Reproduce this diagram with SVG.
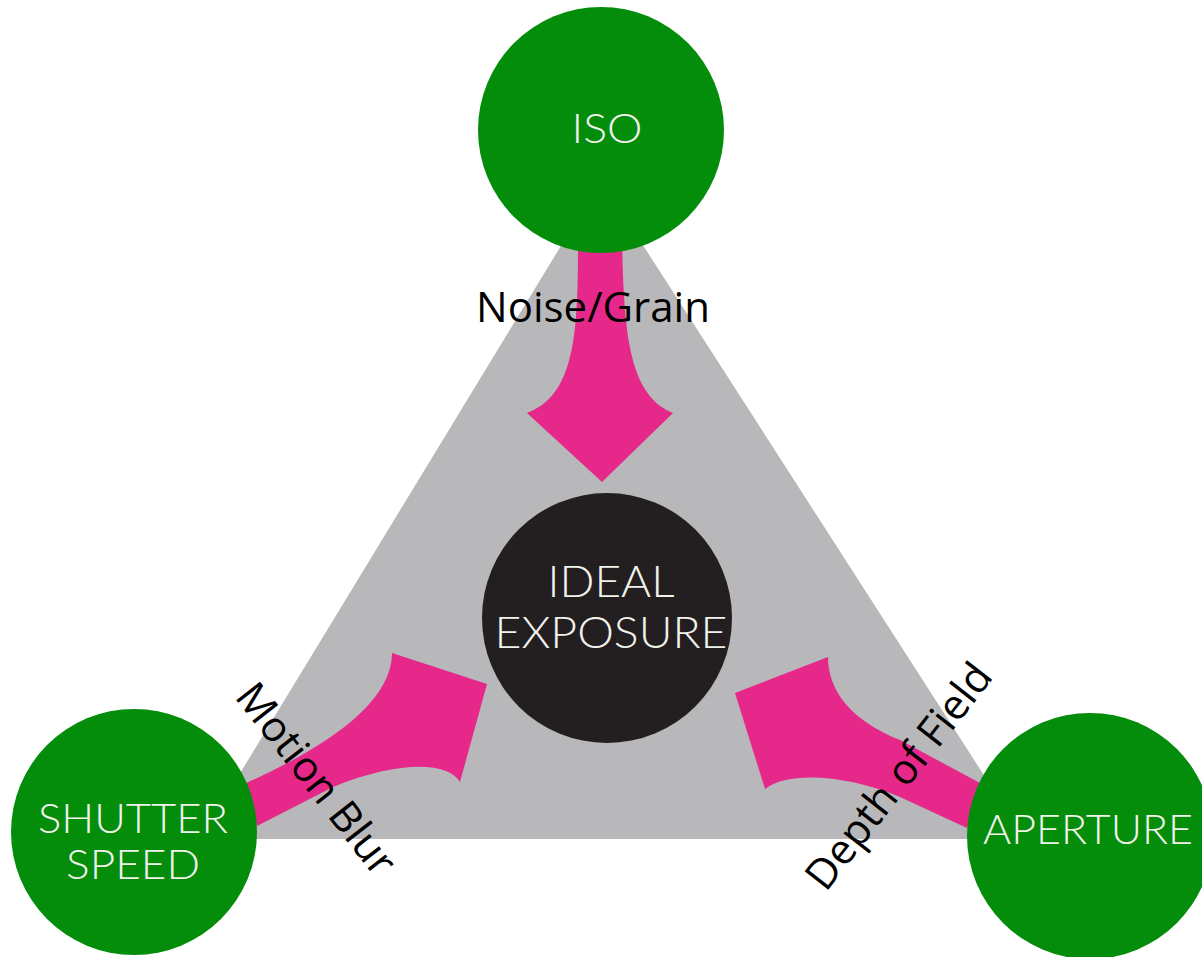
<svg xmlns="http://www.w3.org/2000/svg" width="1202" height="957" viewBox="0 0 1202 957">
<style>
.green{fill:#038D0B}
.arrow{fill:#E6288A}
.node-label{font-family:Lato,"Open Sans",sans-serif;font-weight:300;fill:#F2F2EC;text-anchor:middle}
.edge-label{font-family:"Open Sans","Liberation Sans",sans-serif;font-size:42px;fill:#000;text-anchor:middle}
</style>
<rect width="1202" height="957" fill="#fff"/>
<g id="triangle">
<polygon points="601,180 200,839 1025,839" fill="#B8B8BB"/>
</g>
<g id="connectors">
<path class="arrow" d="M578,240 C578,330 576,395 527,413 L602,482 L673,413 C628,395 624,330 622,240 Z"/>
<path class="arrow" d="M246,783 C320,750 392,705 392,653 L487,684 L460,782 C448,762 400,760 333,787 L257,826 Z"/>
<path class="arrow" d="M828,657 C828,690 850,720 900,740 L980,783 L967,828 L900,797 C850,776 790,770 765,789 L735,693 Z"/>
</g>
<g id="ideal-exposure">
<circle cx="607" cy="618" r="125" fill="#231F20"/>
<text class="node-label" x="611" y="597" font-size="44" textLength="127" lengthAdjust="spacingAndGlyphs">IDEAL</text>
<text class="node-label" x="611" y="648" font-size="44" textLength="233" lengthAdjust="spacingAndGlyphs">EXPOSURE</text>
</g>
<g id="iso">
<circle class="green" cx="601" cy="130" r="123"/>
<text class="node-label" x="607" y="143" font-size="42" textLength="71" lengthAdjust="spacingAndGlyphs">ISO</text>
</g>
<g id="shutter-speed">
<circle class="green" cx="134" cy="832" r="123"/>
<text class="node-label" x="133" y="833" font-size="42" textLength="190" lengthAdjust="spacingAndGlyphs">SHUTTER</text>
<text class="node-label" x="133" y="879" font-size="42" textLength="134" lengthAdjust="spacingAndGlyphs">SPEED</text>
</g>
<g id="aperture">
<circle class="green" cx="1090" cy="836" r="123"/>
<text class="node-label" x="1088" y="844" font-size="42" textLength="210" lengthAdjust="spacingAndGlyphs">APERTURE</text>
</g>
<g id="edge-labels">
<text class="edge-label" x="593" y="322">Noise/Grain</text>
<text class="edge-label" transform="translate(305,788) rotate(52)">Motion Blur</text>
<text class="edge-label" transform="translate(910,785) rotate(-52)">Depth of Field</text>
</g>
</svg>
